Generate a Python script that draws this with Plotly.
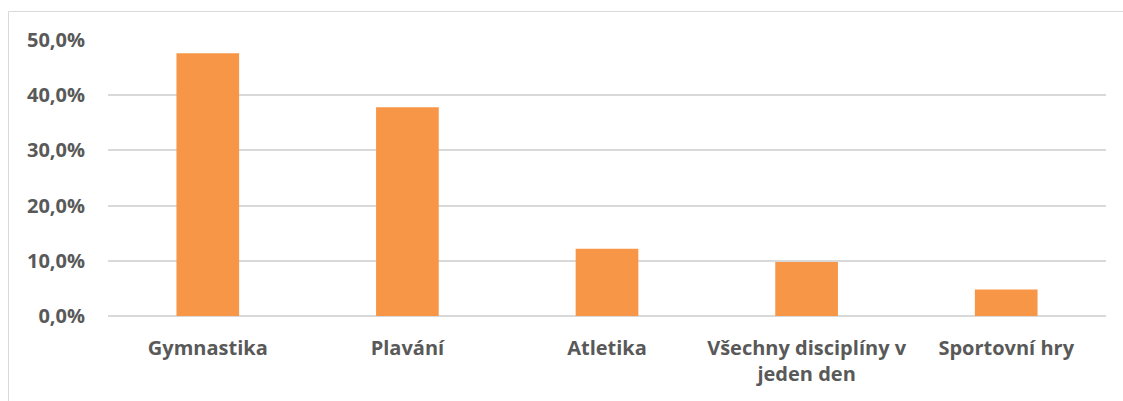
import plotly.graph_objects as go

# Share of respondents by preferred sport discipline
categories = [
    "Gymnastika",
    "Plavání",
    "Atletika",
    "Všechny disciplíny v<br>jeden den",
    "Sportovní hry",
]
shares = [0.476, 0.378, 0.122, 0.098, 0.048]
y_ticks = [0.0, 0.1, 0.2, 0.3, 0.4, 0.5]
y_tick_labels = ["0,0%", "10,0%", "20,0%", "30,0%", "40,0%", "50,0%"]

BAR_COLOR = "#F79646"
GRID_COLOR = "#D9D9D9"
TEXT_COLOR = "#595959"
FONT = dict(family="Open Sans, Noto Sans, sans-serif", size=20, color=TEXT_COLOR)

fig = go.Figure(
    go.Bar(
        x=categories,
        y=shares,
        marker=dict(color=BAR_COLOR, line=dict(width=0)),
        hoverinfo="skip",
    )
)

fig.update_layout(
    width=1123,
    height=401,
    margin=dict(l=108, r=17, t=40, b=85),
    paper_bgcolor="white",
    plot_bgcolor="white",
    bargap=0.686,
    showlegend=False,
    font=FONT,
    xaxis=dict(
        showgrid=False,
        showline=False,
        zeroline=False,
        ticks="",
        tickfont=dict(FONT, weight="bold"),
        ticklabelstandoff=18,
    ),
    yaxis=dict(
        range=[0, 0.5],
        tickvals=y_ticks,
        ticktext=y_tick_labels,
        showgrid=True,
        gridcolor=GRID_COLOR,
        gridwidth=1.5,
        zeroline=True,
        zerolinecolor=GRID_COLOR,
        zerolinewidth=1.5,
        showline=False,
        ticks="",
        tickfont=dict(FONT, weight="bold"),
        ticklabelstandoff=22,
    ),
)

# Outer chart frame (left and top edges visible)
fig.add_shape(
    type="rect",
    xref="paper",
    yref="paper",
    x0=(8.5 - 108) / 998,
    x1=1.05,
    y0=-0.5,
    y1=(316 - 11.5) / 276,
    line=dict(color=GRID_COLOR, width=1),
    fillcolor="rgba(0,0,0,0)",
    layer="below",
)

fig.write_html("out.html")
